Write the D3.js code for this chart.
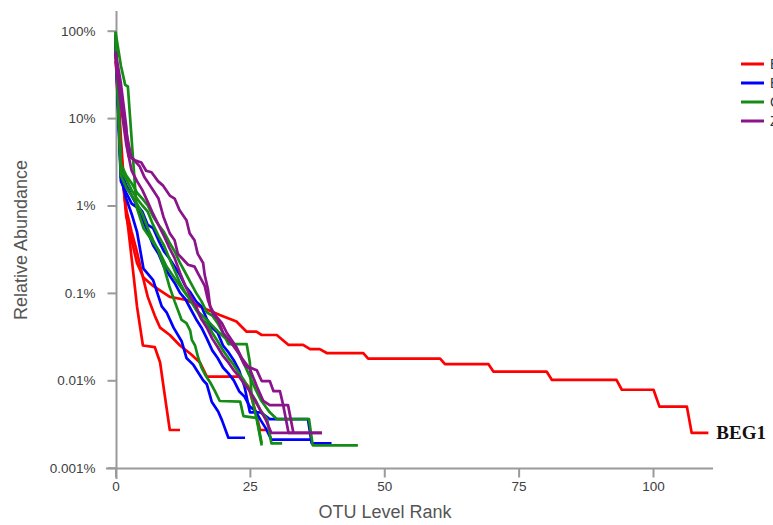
<!DOCTYPE html>
<meta charset="utf-8">
<head>
<title>OTU rank abundance</title>
<style>
body { margin: 0; background: #fff; }
.axis path, .axis line { stroke: #9a9a9a; stroke-width: 2px; fill: none; }
.axis text { fill: #404040; font: 13.5px "Liberation Sans", Arial, sans-serif; }
.title { fill: #555; font: 18px "Liberation Sans", Arial, sans-serif; }
.curve { fill: none; stroke-width: 2.7px; stroke-linejoin: round; stroke-linecap: butt; }
.legend text { font: 14px "Liberation Sans", Arial, sans-serif; fill: #333; }
</style>
</head>
<body>
<script src="https://cdn.jsdelivr.net/npm/d3@7"></script>
<div id="chart"></div>
<script>

// groups (legend order) and their colours
var groups = ["BEG", "BEJ", "CHJ", "ZJ"];
var colours = ["#ff0000", "#0000ff", "#158c15", "#8b148b"];

// x ticks / y ticks
var rankTicks = [0, 25, 50, 75, 100];
var pctTicks = [100, 10, 1, 0.1, 0.01, 0.001];
var pctLabels = ["100%", "10%", "1%", "0.1%", "0.01%", "0.001%"];

// [rank, relative abundance %]
var redBEG1 = [[0,62],[1,4.5],[1.5,1.6],[2,0.75],[3,0.4],[4,0.22],[5.2,0.15],[7,0.12],[10.1,0.09],[13.2,0.083],[15.7,0.07],[19.4,0.056],[22.5,0.047],[24.4,0.036],[26.2,0.036],[27.2,0.033],[30,0.033],[32.2,0.0254],[34.9,0.0254],[36.2,0.0227],[38,0.0227],[39.3,0.0205],[46.1,0.0205],[47,0.0177],[60.4,0.0177],[61.3,0.0153],[69.4,0.0153],[70.3,0.0126],[80.2,0.0126],[81.2,0.0101],[93.2,0.0101],[94.2,0.0078],[100.1,0.0078],[101.2,0.005],[106.3,0.005],[107.2,0.0025],[110.3,0.0025]];
var redShort = [[0,70],[1,6],[1.8,1.1],[3,0.25],[4,0.07],[5.1,0.025],[7.3,0.024],[8.3,0.016],[9.2,0.0065],[10.1,0.0027],[12,0.0027]];
var redMid = [[0,55],[1,3],[2,0.9],[3,0.5],[3.9,0.31],[5,0.16],[6,0.09],[7.3,0.055],[8.3,0.04],[10.1,0.033],[12,0.025],[14,0.02],[15.7,0.016],[17,0.011],[23.2,0.011],[24.7,0.0085],[26,0.0045],[26.9,0.0027],[28.1,0.0027]];

var blueA = [[0,85],[1,2.1],[2,1.2],[3,0.8],[4,0.5],[5.2,0.19],[7,0.14],[8.6,0.07],[9.5,0.06],[10.8,0.04],[12.3,0.028],[13.2,0.018],[14.5,0.015],[16.3,0.01],[17,0.009],[17.9,0.0057],[19.1,0.0044],[19.8,0.0035],[21,0.0022],[24.1,0.0022]];
var blueB = [[0,90],[1,2.5],[2,1.7],[3,1.3],[4,1.0],[5,0.85],[6,0.6],[7,0.55],[8,0.4],[9,0.3],[10,0.25],[11,0.2],[12,0.16],[13,0.12],[14,0.1],[15,0.08],[16,0.07],[17,0.05],[18,0.04],[19,0.035],[20,0.025],[21,0.021],[22,0.017],[23,0.013],[24,0.0085],[25,0.0043],[27,0.0043],[28.7,0.0036],[35.8,0.0036],[36.5,0.0019],[40.2,0.0019]];
var blueC = [[0,75],[1,1.9],[2,1.4],[3,1.05],[4,0.95],[5,0.7],[6,0.5],[7,0.35],[8,0.28],[9,0.2],[10,0.16],[11,0.13],[12,0.1],[13,0.085],[14,0.065],[15,0.05],[16,0.04],[17,0.03],[18,0.022],[19,0.018],[20,0.014],[21,0.012],[22,0.01],[23,0.0075],[24,0.0065],[25,0.005],[26,0.0045],[27,0.0035],[28,0.0028],[29,0.0021],[36.7,0.0021]];

var greenA = [[0,97],[1,40],[1.8,24],[2.3,23],[3.9,0.97],[5.2,0.55],[8,0.31],[9.5,0.2],[12,0.12],[13.5,0.09],[15.1,0.063],[17.3,0.047],[19.1,0.036],[21.6,0.026],[24.4,0.026],[25,0.016],[25.3,0.0066],[26.3,0.0035],[27.2,0.0018]];
var greenB = [[0,98],[1,2.2],[2,1.6],[3,1.3],[4,1.05],[5,0.8],[6,0.55],[7,0.4],[8,0.3],[9,0.2],[10,0.12],[11,0.08],[12.3,0.049],[13.2,0.045],[13.9,0.037],[14.2,0.029],[14.8,0.025],[15.4,0.018],[16,0.014],[16.7,0.0115],[17.6,0.0095],[18.5,0.0075],[19.4,0.0058],[23.2,0.0057],[23.8,0.0039],[26.3,0.0037],[27.2,0.0019]];
var greenC = [[0,80],[1,2.5],[2,2.0],[3,1.5],[4,1.2],[5,1.0],[6,0.85],[7,0.6],[8,0.45],[9,0.35],[10,0.25],[11,0.18],[12,0.13],[13,0.1],[14,0.085],[15,0.065],[16,0.05],[17,0.045],[18,0.035],[19,0.028],[20,0.022],[21,0.018],[22,0.015],[23,0.012],[24,0.0098],[25,0.0075],[26,0.006],[27,0.0045],[28.2,0.0036],[29,0.0019],[31,0.0019]];
var greenD = [[0,88],[1,3],[2,2.2],[3,1.8],[4,1.4],[5,1.2],[6,1.0],[7,0.75],[8,0.6],[9,0.5],[10,0.38],[11,0.3],[12,0.22],[13,0.17],[14,0.13],[15,0.1],[16,0.08],[17,0.06],[18,0.055],[19,0.045],[20,0.035],[21,0.026],[22,0.026],[23,0.02],[24,0.015],[25,0.011],[26,0.008],[27,0.006],[28.7,0.0043],[30,0.0036],[36,0.0036],[36.7,0.0018],[45.1,0.0018]];

var purpleA = [[0,58],[1,25],[2,8],[2.4,3.7],[3.6,3.3],[4.8,3.1],[5.7,2.5],[6.7,2.4],[7.9,1.9],[8.8,1.7],[10.1,1.3],[11,1.2],[11.9,0.89],[13.2,0.68],[13.8,0.48],[14.7,0.4],[15.3,0.28],[16.3,0.22],[16.6,0.16],[17.2,0.11],[17.6,0.07],[18.5,0.056],[19.8,0.045],[20.7,0.035],[21.6,0.029],[22.5,0.024],[23.5,0.018],[24.7,0.0143],[26.3,0.013],[27.2,0.0098],[28.7,0.0098],[29.4,0.0075],[30.6,0.0075],[31.2,0.0052],[32.1,0.0052],[33.1,0.0025],[38.4,0.0025]];
var purpleB = [[0,52],[1,20],[2,7],[2.9,3.6],[4.5,2.8],[5.4,2.1],[6.7,1.6],[8,1.2],[8.9,0.75],[10.1,0.48],[11,0.4],[11.6,0.28],[13.5,0.21],[14.7,0.2],[15.3,0.17],[16.6,0.12],[17.2,0.083],[18.1,0.058],[19.1,0.049],[20,0.035],[21.5,0.027],[23,0.02],[24,0.015],[25,0.0135],[26.3,0.0085],[27.5,0.0058],[28.7,0.0052],[31.2,0.0052],[32.2,0.0025],[38.4,0.0025]];
var purpleC = [[0,45],[1,14],[2,5],[3,2.5],[4,1.9],[5,1.5],[6,1.1],[7,0.8],[8,0.6],[9,0.45],[10,0.33],[11,0.25],[12,0.17],[13,0.12],[14,0.09],[15,0.07],[16,0.05],[17,0.04],[18,0.03],[19,0.024],[20,0.019],[21,0.016],[22,0.013],[23,0.011],[24,0.009],[25,0.0075],[26,0.0058],[27,0.0045],[28,0.0035],[29,0.0025],[33,0.0025]];

var samples = [
  {group: 0, values: redShort}, {group: 0, values: redMid}, {group: 0, values: redBEG1},
  {group: 1, values: blueA}, {group: 1, values: blueB}, {group: 1, values: blueC},
  {group: 2, values: greenA}, {group: 2, values: greenB}, {group: 2, values: greenC}, {group: 2, values: greenD},
  {group: 3, values: purpleA}, {group: 3, values: purpleB}, {group: 3, values: purpleC}
];

var width = 773,
    height = 525;

var svg = d3.select('#chart')
    .append('svg')
    .attr('width', width)
    .attr('height', height);

var x = d3.scaleLinear().domain([0, 100]).range([115.5, 653]);
var y = d3.scaleLog().domain([0.001, 100]).range([467.7, 30.7]);

var x0 = 116.5, y0 = 468.5;

// axes
var xAxis = svg.append('g')
    .attr('class', 'axis')
    .attr('transform', 'translate(0,' + y0 + ')')
    .call(d3.axisBottom(x).tickValues(rankTicks).tickSize(9).tickPadding(4).tickSizeOuter(0));
xAxis.select('.domain').attr('d', 'M106,0H713');

var yAxis = svg.append('g')
    .attr('class', 'axis')
    .attr('transform', 'translate(' + x0 + ',0)')
    .call(d3.axisLeft(y).tickValues(pctTicks).tickSize(9).tickPadding(12).tickSizeOuter(0)
      .tickFormat(function (d, i) { return pctLabels[i]; }));
yAxis.select('.domain').attr('d', 'M0,11V479');

svg.append('text')
    .attr('class', 'title')
    .attr('x', 385)
    .attr('y', 518)
    .attr('text-anchor', 'middle')
    .text('OTU Level Rank');

svg.append('text')
    .attr('class', 'title')
    .attr('transform', 'translate(27,240) rotate(-90)')
    .attr('text-anchor', 'middle')
    .text('Relative Abundance');

var line = d3.line()
    .x(function (d) { return x(d[0]); })
    .y(function (d) { return y(d[1]); });

svg.append('g').selectAll('path')
    .data(samples)
    .enter()
    .append('path')
    .attr('class', 'curve')
    .attr('stroke', function (d) { return colours[d.group]; })
    .attr('d', function (d) { return line(d.values); });

// label at the end of the long red curve
var last = redBEG1[redBEG1.length - 1];
svg.append('text')
    .attr('x', x(last[0]) + 8)
    .attr('y', y(last[1]) + 6)
    .attr('font-family', '"Liberation Serif", "Times New Roman", serif')
    .attr('font-weight', 'bold')
    .attr('font-size', 19)
    .attr('fill', '#111')
    .text('BEG1');

// legend, cut by the right edge like the original
var legend = svg.append('g').attr('class', 'legend');
var item = legend.selectAll('g')
    .data(groups)
    .enter()
    .append('g')
    .attr('transform', function (d, i) { return 'translate(741,' + (64 + i * 19) + ')'; });
item.append('line')
    .attr('x2', 23)
    .attr('stroke', function (d, i) { return colours[i]; })
    .attr('stroke-width', 3);
item.append('text')
    .attr('x', 29)
    .attr('dy', '0.35em')
    .text(function (d) { return d; });

</script>
</body>
